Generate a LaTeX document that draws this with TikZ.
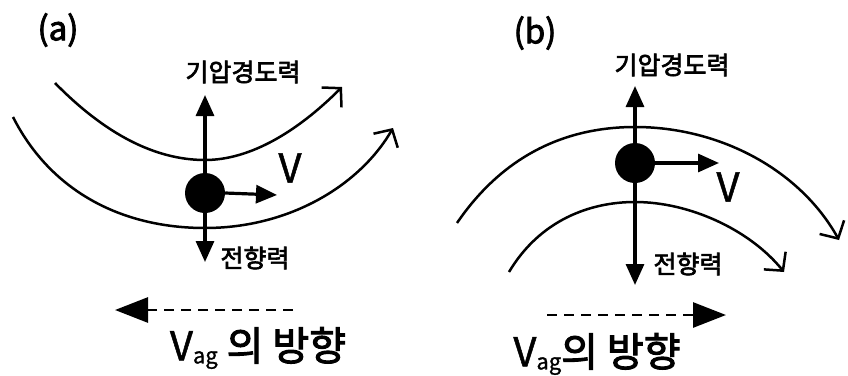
\documentclass[tikz,border=0pt]{standalone}
\usepackage{fontspec}
\setmainfont[FakeBold=1.2]{Noto Sans CJK KR}
\newfontfamily\krm[FakeBold=2.6]{Noto Sans CJK KR}
\usetikzlibrary{arrows.meta}
\newcommand{\subag}{\raisebox{-3pt}{\fontsize{22}{26}\selectfont ag}}
\begin{document}
\begin{tikzpicture}[x=1pt,y=-1pt,
 curve/.style={line width=2.5pt, -{Straight Barb[length=13pt,width=28pt,line width=2.5pt]}},
 force/.style={line width=3.2pt, -{Triangle[length=21pt,width=18pt]}},
 vag/.style={line width=2.8pt, dash pattern=on 10pt off 7pt, -{Triangle[length=33pt,width=25pt]}},
 dot/.style={circle, fill=black, minimum size=40pt, inner sep=0pt},
 lbl/.style={font=\krm\fontsize{25}{30}\selectfont, inner sep=0pt},
 big/.style={font=\fontsize{40}{46}\selectfont, inner sep=0pt},
 panel/.style={font=\krm\fontsize{33}{38}\selectfont, inner sep=0pt}]
\path[use as bounding box] (0,0) rectangle (848,375);
% panel (a)
\node[panel] (la) at (58,30) {(a)};
\draw[curve] (55,83) .. controls (105,134) and (155,160) .. (205,160) .. controls (250,160) and (297,132) .. (342,87);
\draw[curve] (13,117) .. controls (50,190) and (120,228) .. (205,228) .. controls (290,228) and (360,185) .. (393,128);
\node[dot] (ca) at (205,193) {};
\coordinate (tua) at (205,95);
\coordinate (tra) at (277,195);
\coordinate (tda) at (205,262);
\draw[force] (ca.north) -- (tua);
\draw[force] (ca.east) -- (tra);
\draw[force] (ca.south) -- (tda);
\node[lbl] (pga) at (243,72) {기압경도력};
\node[big] (va) at (290,168) {V};
\node[lbl] (coa) at (255,258) {전향력};
\coordinate (dsa) at (293,310);
\coordinate (dea) at (115,310);
\draw[vag] (dsa) -- (dea);
\node[big] (vaga) at (258,348) {V\subag{} {\krm 의 방향}};
% panel (b)
\node[panel] (lb) at (535,33) {(b)};
\draw[curve] (457,223) .. controls (500,160) and (560,127) .. (635,127) .. controls (720,127) and (800,170) .. (839,240);
\draw[curve] (509,272) .. controls (540,220) and (590,202) .. (635,202) .. controls (690,202) and (750,230) .. (784,272);
\node[dot] (cb) at (635,163) {};
\coordinate (tub) at (635,86);
\coordinate (trb) at (719,163);
\coordinate (tdb) at (635,285);
\draw[force] (cb.north) -- (tub);
\draw[force] (cb.east) -- (trb);
\draw[force] (cb.south) -- (tdb);
\node[lbl] (pgb) at (672,65) {기압경도력};
\node[big] (vb) at (728,187) {V};
\node[lbl] (cob) at (688,264) {전향력};
\coordinate (dsb) at (547,315);
\coordinate (deb) at (726,315);
\draw[vag] (dsb) -- (deb);
\node[big] (vagb) at (597,354) {V\subag{}{\krm 의 방향}};
\end{tikzpicture}
\end{document}
